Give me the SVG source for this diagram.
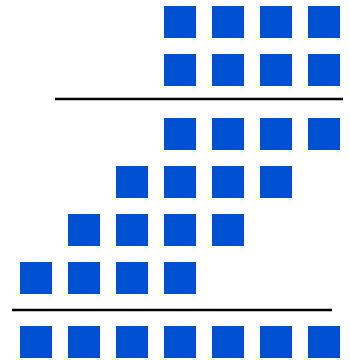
<svg xmlns="http://www.w3.org/2000/svg" width="350" height="360" viewBox="0 0 350 360">
<defs>
<style>
.s{fill:#0050d4}
.ln{stroke:#000;stroke-width:2.5;fill:none}
</style>
<rect id="sq" width="32" height="32" class="s"/>
</defs>
<rect width="350" height="360" fill="#fff"/>
<g id="row1">
<use href="#sq" x="164" y="6"/><use href="#sq" x="212" y="6"/><use href="#sq" x="260" y="6"/><use href="#sq" x="308" y="6"/>
</g>
<g id="row2">
<use href="#sq" x="164" y="54"/><use href="#sq" x="212" y="54"/><use href="#sq" x="260" y="54"/><use href="#sq" x="308" y="54"/>
</g>
<g id="lines">
<line class="ln" x1="55" y1="99" x2="343" y2="99"/>
<line class="ln" x1="12" y1="310" x2="332" y2="310"/>
</g>
<g id="row3">
<use href="#sq" x="164" y="118"/><use href="#sq" x="212" y="118"/><use href="#sq" x="260" y="118"/><use href="#sq" x="308" y="118"/>
</g>
<g id="row4">
<use href="#sq" x="116" y="166"/><use href="#sq" x="164" y="166"/><use href="#sq" x="212" y="166"/><use href="#sq" x="260" y="166"/>
</g>
<g id="row5">
<use href="#sq" x="68" y="214"/><use href="#sq" x="116" y="214"/><use href="#sq" x="164" y="214"/><use href="#sq" x="212" y="214"/>
</g>
<g id="row6">
<use href="#sq" x="20" y="262"/><use href="#sq" x="68" y="262"/><use href="#sq" x="116" y="262"/><use href="#sq" x="164" y="262"/>
</g>
<g id="row7">
<use href="#sq" x="20" y="326"/><use href="#sq" x="68" y="326"/><use href="#sq" x="116" y="326"/><use href="#sq" x="164" y="326"/><use href="#sq" x="212" y="326"/><use href="#sq" x="260" y="326"/><use href="#sq" x="308" y="326"/>
</g>
</svg>
